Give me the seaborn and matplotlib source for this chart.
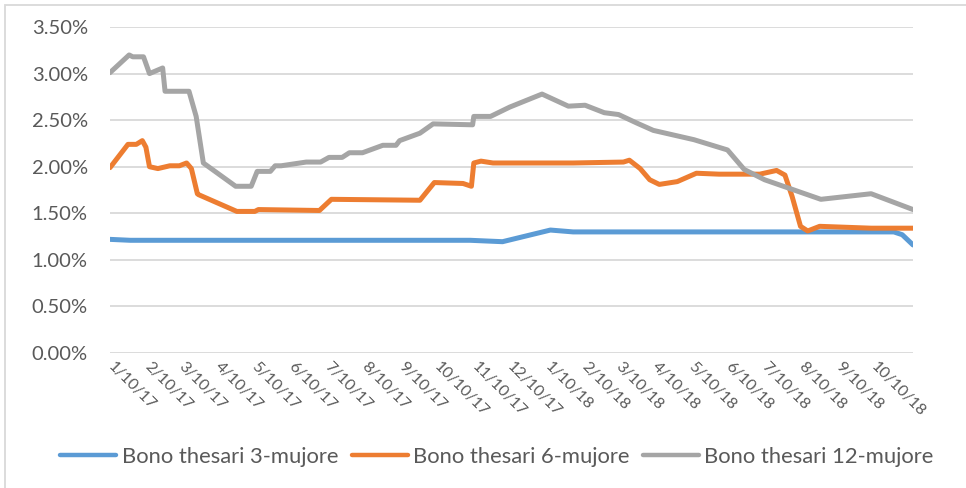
import matplotlib
matplotlib.use("Agg")
import matplotlib.pyplot as plt
from matplotlib.ticker import FuncFormatter
from matplotlib.patches import Rectangle
from matplotlib.lines import Line2D
import seaborn as sns
import pandas as pd

# ---- data ----
s3_name = "Bono thesari 3-mujore"
s6_name = "Bono thesari 6-mujore"
s12_name = "Bono thesari 12-mujore"

s3_dates = ["2017-01-10", "2017-01-27", "2017-11-07", "2017-12-04", "2018-01-13",
            "2018-02-01", "2018-10-27", "2018-11-03", "2018-11-12"]
s3_vals = [1.22, 1.21, 1.21, 1.195, 1.32, 1.30, 1.30, 1.27, 1.16]

s6_dates = ["2017-01-10", "2017-01-25", "2017-02-01", "2017-02-06", "2017-02-09",
            "2017-02-12", "2017-02-19", "2017-03-01", "2017-03-09", "2017-03-15",
            "2017-03-19", "2017-03-24", "2017-03-25", "2017-04-26", "2017-05-11",
            "2017-05-14", "2017-07-04", "2017-07-14", "2017-09-26", "2017-10-08",
            "2017-11-01", "2017-11-08", "2017-11-10", "2017-11-16", "2017-11-26",
            "2018-02-01", "2018-03-15", "2018-03-20", "2018-03-29", "2018-04-06",
            "2018-04-14", "2018-04-29", "2018-05-15", "2018-06-03", "2018-07-07",
            "2018-07-21", "2018-07-28", "2018-08-03", "2018-08-10", "2018-08-16",
            "2018-08-26", "2018-10-08", "2018-11-12"]
s6_vals = [1.99, 2.24, 2.24, 2.28, 2.21,
           2.00, 1.98, 2.01, 2.01, 2.04,
           1.98, 1.71, 1.70, 1.52, 1.52,
           1.54, 1.53, 1.65, 1.64, 1.83,
           1.82, 1.79, 2.04, 2.06, 2.04,
           2.04, 2.05, 2.07, 1.98, 1.86,
           1.81, 1.84, 1.93, 1.92, 1.92,
           1.96, 1.91, 1.68, 1.36, 1.31,
           1.36, 1.34, 1.34]

s12_dates = ["2017-01-10", "2017-01-26", "2017-01-29", "2017-02-07", "2017-02-12",
             "2017-02-23", "2017-02-25", "2017-03-17", "2017-03-23", "2017-03-29",
             "2017-04-25", "2017-05-08", "2017-05-13", "2017-05-24", "2017-05-28",
             "2017-06-02", "2017-06-23", "2017-07-05", "2017-07-12", "2017-07-23",
             "2017-07-29", "2017-08-09", "2017-08-26", "2017-09-06", "2017-09-09",
             "2017-09-26", "2017-10-07", "2017-11-09", "2017-11-10", "2017-11-24",
             "2017-12-10", "2018-01-06", "2018-01-28", "2018-02-11", "2018-02-27",
             "2018-03-11", "2018-03-26", "2018-04-09", "2018-05-13", "2018-06-10",
             "2018-06-24", "2018-07-11", "2018-08-27", "2018-10-08", "2018-11-12"]
s12_vals = [3.01, 3.20, 3.18, 3.18, 3.00,
            3.06, 2.81, 2.81, 2.54, 2.04,
            1.79, 1.79, 1.95, 1.95, 2.01,
            2.01, 2.05, 2.05, 2.10, 2.10,
            2.15, 2.15, 2.23, 2.23, 2.28,
            2.36, 2.46, 2.45, 2.54, 2.54,
            2.64, 2.78, 2.65, 2.66, 2.58,
            2.56, 2.47, 2.39, 2.29, 2.18,
            1.97, 1.86, 1.65, 1.71, 1.54]

tick_dates = ["2017-01-10", "2017-02-10", "2017-03-10", "2017-04-10", "2017-05-10",
              "2017-06-10", "2017-07-10", "2017-08-10", "2017-09-10", "2017-10-10",
              "2017-11-10", "2017-12-10", "2018-01-10", "2018-02-10", "2018-03-10",
              "2018-04-10", "2018-05-10", "2018-06-10", "2018-07-10", "2018-08-10",
              "2018-09-10", "2018-10-10"]
tick_labels = ["1/10/17", "2/10/17", "3/10/17", "4/10/17", "5/10/17", "6/10/17",
               "7/10/17", "8/10/17", "9/10/17", "10/10/17", "11/10/17", "12/10/17",
               "1/10/18", "2/10/18", "3/10/18", "4/10/18", "5/10/18", "6/10/18",
               "7/10/18", "8/10/18", "9/10/18", "10/10/18"]
y_ticks = [0.0, 0.5, 1.0, 1.5, 2.0, 2.5, 3.0, 3.5]

colors = {s3_name: "#5B9BD5", s6_name: "#ED7D31", s12_name: "#A5A5A5"}

frames = []
for name, d, v in [(s3_name, s3_dates, s3_vals), (s6_name, s6_dates, s6_vals),
                   (s12_name, s12_dates, s12_vals)]:
    frames.append(pd.DataFrame({"date": pd.to_datetime(d), "value": v, "series": name}))
df = pd.concat(frames, ignore_index=True)

# ---- figure ----
sns.set_theme(style="white")
plt.rcParams["font.family"] = ["Lato", "DejaVu Sans"]
text_color = "#595959"
grid_color = "#D9D9D9"

W, H = 966, 488
fig = plt.figure(figsize=(W / 100, H / 100), dpi=100)
ax = fig.add_axes([110 / W, (H - 353) / H, (913 - 110) / W, (353 - 27) / H])

sns.lineplot(data=df, x="date", y="value", hue="series", palette=colors,
             hue_order=[s3_name, s6_name, s12_name], linewidth=3.6, ax=ax,
             legend=False, estimator=None, sort=False)
for line in ax.get_lines():
    line.set_solid_joinstyle("round")
    line.set_solid_capstyle("round")

ax.set_xlim(pd.Timestamp("2017-01-10"), pd.Timestamp("2018-11-12"))
ax.set_ylim(0, 3.5)
ax.set_yticks(y_ticks)
ax.yaxis.set_major_formatter(FuncFormatter(lambda v, p: f"{v:.2f}%"))
ax.set_xticks(pd.to_datetime(tick_dates))
ax.set_xticklabels(tick_labels)
ax.set_xlabel("")
ax.set_ylabel("")
ax.grid(axis="y", color=grid_color, linewidth=1.3)
ax.set_axisbelow(True)
for s in ax.spines.values():
    s.set_visible(False)
ax.tick_params(axis="y", length=0, pad=16, labelsize=14.5, labelcolor=text_color)
ax.tick_params(axis="x", length=0, pad=8, labelsize=11.5, labelcolor=text_color)
for lbl in ax.get_xticklabels():
    lbl.set_rotation(-45)
    lbl.set_rotation_mode("anchor")
    lbl.set_ha("left")
    lbl.set_va("center")

# legend
handles = [Line2D([0], [0], color=colors[n], linewidth=3.2, solid_capstyle="round")
           for n in [s3_name, s6_name, s12_name]]
fig.legend(handles, [s3_name, s6_name, s12_name], loc="center",
           bbox_to_anchor=(497 / W, 1 - 457 / H), ncol=3, frameon=False,
           fontsize=15.8, labelcolor=text_color, handlelength=2.55, handletextpad=0.25,
           columnspacing=0.6)

# chart-area frame
fig.patches.append(Rectangle((5 / W, -0.02), 1.1, 1 - 5 / H + 0.02, transform=fig.transFigure,
                             fill=False, edgecolor=grid_color, linewidth=1.3))

fig.savefig("out.png", dpi=100)
